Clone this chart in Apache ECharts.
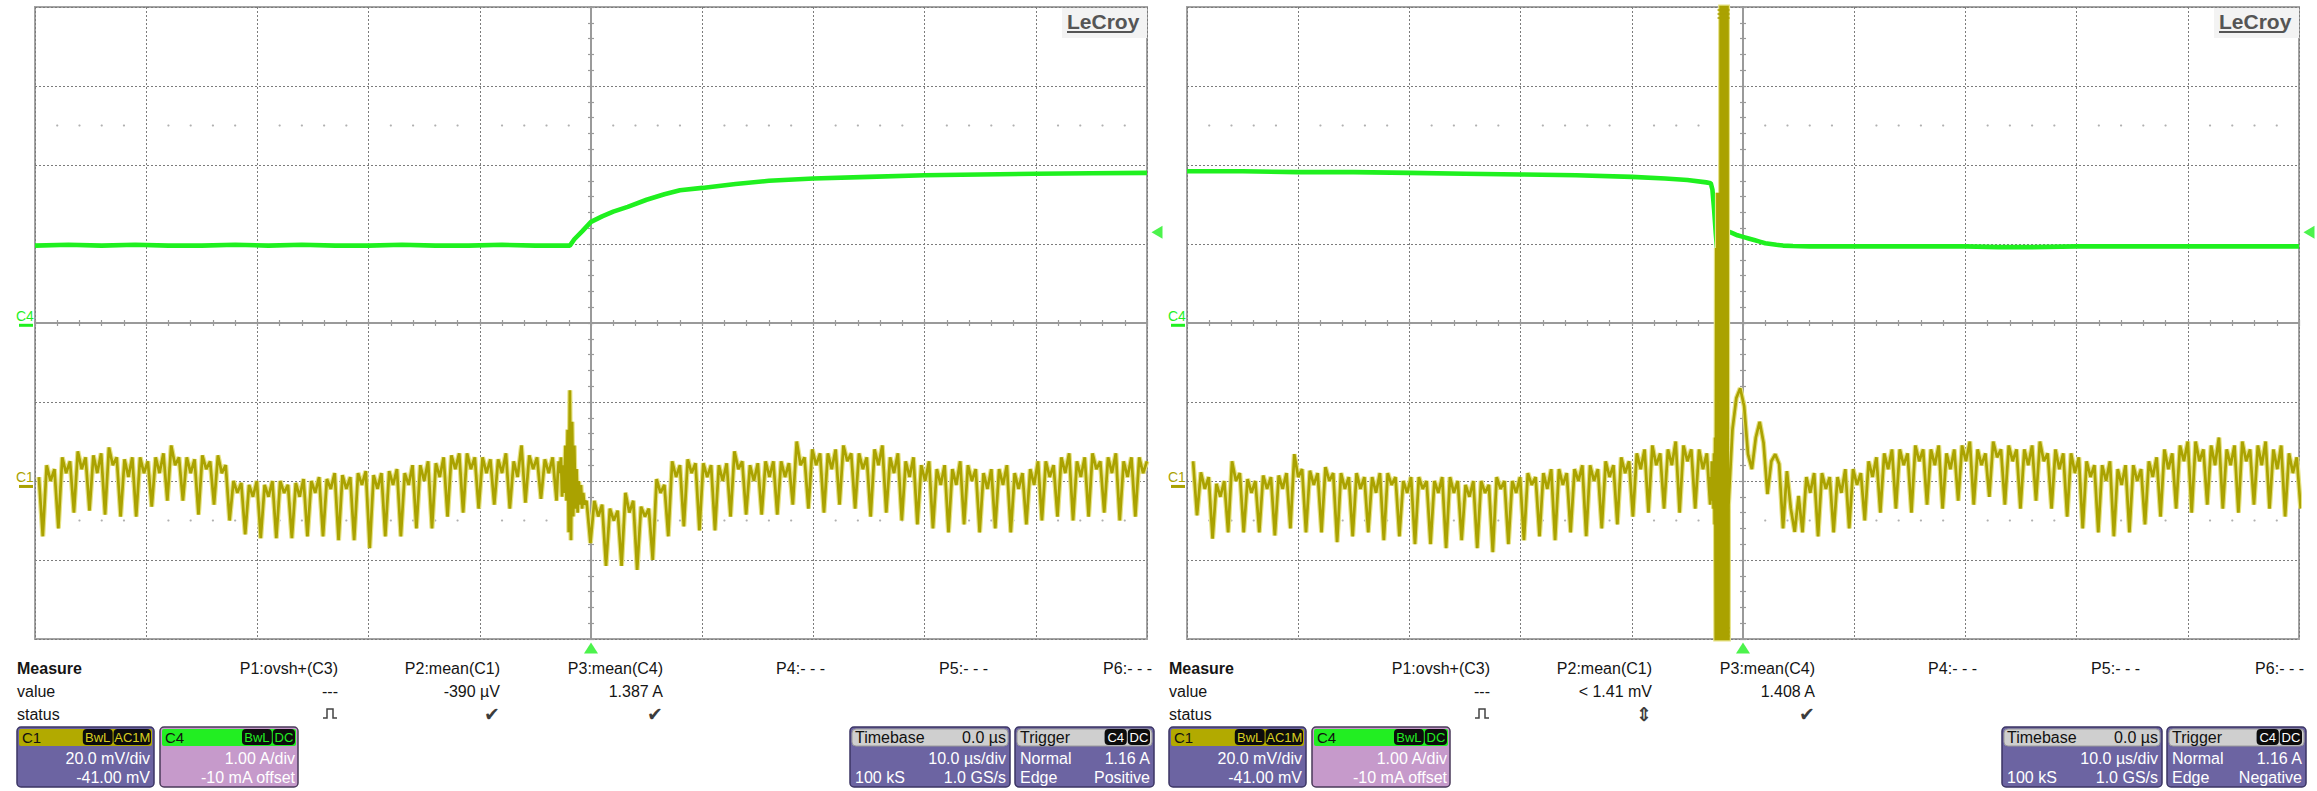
<!DOCTYPE html>
<html>
<head>
<meta charset="utf-8">
<script src="https://cdn.jsdelivr.net/npm/echarts/dist/echarts.min.js"></script>
<style>
  html, body { margin: 0; padding: 0; background: #ffffff; }
  #scope { width: 2317px; height: 791px; }
</style>
</head>
<body>
<div id="scope"></div>
<script>
// ---------------- acquisition settings ----------------
const TIME_MIN = -50, TIME_MAX = 50, TIME_DIV = 10;   // µs, 10.0 µs/div
const DIVS_V = 4;                                      // ±4 vertical divisions
const C4_SCALE = 1.0, C4_OFFSET = -0.010;              // A/div, A  (-10 mA offset)
const C1_SCALE = 20.0, C1_OFFSET = -41.0;              // mV/div, mV
const TRIG_LEVEL = 1.16;                               // A, trigger on C4
const DOT_ROW_DIV = 2.5;                               // graticule dot rows

// ---------------- C4 (current, A) ----------------
const C4_LEFT_T = [-50,-47,-44,-41,-38,-35,-32,-29,-26,-23,-20,-17,-14,-11,-8,-5,-3,-1.9,-1.5,-0.8,0,1,2,3.3,5,6.6,8,10,13,16,20,25,30,35,40,45,50];
const C4_LEFT_V = [0.99,1.00,0.99,1.00,0.99,0.99,1.00,0.99,1.00,0.99,0.99,1.00,0.99,0.99,1.00,0.99,0.99,0.99,1.07,1.17,1.29,1.36,1.42,1.48,1.57,1.64,1.69,1.72,1.77,1.81,1.84,1.86,1.88,1.89,1.90,1.905,1.91];

const C4_RIGHT_T = [-50,-45,-40,-35,-30,-25,-20,-15,-10,-7,-5,-3.3,-2.9,-2.75,-2.6,-2.45,-2.3,-1.6,-1.35,-1,-0.5,0,0.5,1,1.5,2,2.5,3,3.6,4.5,6,10,15,20,23,26,30,35,40,45,50];
const C4_RIGHT_V = [1.93,1.93,1.92,1.92,1.91,1.90,1.89,1.88,1.86,1.84,1.82,1.79,1.78,1.70,1.45,1.15,0.90,1.18,1.17,1.15,1.12,1.10,1.08,1.06,1.04,1.02,1.01,1.00,0.99,0.985,0.98,0.98,0.98,0.98,0.97,0.97,0.98,0.98,0.98,0.98,0.98];

// ---------------- C1 (voltage ripple, mV) ----------------
// Each record: start time (µs), sample step (µs), samples (mV)
const C1_LEFT_PRE_T0 = -49.65, C1_LEFT_PRE_DT = 0.35;
const C1_LEFT_PRE = [2,
  -13,5,1,4, -11,7,3,6, -7,8.5,4,7, -6.5,7.5,3,8, -7.5,9.5,5,7, -8,6.5,2,7, -8,7,3,6,
  -5.5,7,3,8, -4,10,5,7, -4,7,3,6.5, -7.5,7.5,4,6, -5,7.5,3,5, -9,1,-2,0.5, -12.5,0,-3,1,
  -13.5,0,-3,1, -13.5,1,-2,0, -13.5,0.5,-3,1.5, -13,1,-2,2, -13,1.5,-1,3, -14,2.5,-1,2, -14,3,0,3.5,
  -16,2.5,-1,3, -13,3.5,0,4, -13,3,0,5, -11,5,1,6, -11,5.5,2,7, -8,7.5,4,8, -7,8,4,7,
  -6,7,3,6.5, -5,6.5,3,8, -6,6,2,10, -4.5,7.5,4,7, -3.5,6.5,3,7];
const C1_LEFT_BURST_T0 = -3.1, C1_LEFT_BURST_DT = 0.1;
const C1_LEFT_BURST = [-4,2,6,3,7,-3,5,-2,10,-4,14,-12,24,-14,16,-8,10,-6,4,-7,1,-5,0,-6,-2,-5];
const C1_LEFT_POST_T0 = -0.4, C1_LEFT_POST_DT = 0.35;
const C1_LEFT_POST = [-4,
  -14.7,-4,-8,-5, -20.5,-6,-9,-6.5, -20.5,-2,-7,-4, -21.5,-5.5,-8,-6, -19,1.5,-2,0,
  -13,6,2,5, -10.5,6.5,3,5.5, -11.5,5.5,2,5, -11.5,5,1,5.5, -8,8.5,4,6, -7.5,5,1,5.5,
  -7.5,6,2,6, -7.5,6,2,5.5, -5,11,5,7, -6,9,5,8, -7,8,4,9, -5,10,6,8, -6,8,4,7,
  -8,9,5,10, -7,7,3,8, -9,6,2,7, -10,5,1,6, -11,4,0,5, -12,4,0,6, -10,5,1,4,
  -12,3,-1,4, -11,4,0,5, -12,3,-1,3, -10,4,0,6, -9,6,2,5, -8,7,3,8, -9,6,2,7,
  -8,8,4,6, -7,7,3,8, -9,6,2,7, -8,7,3,6];

const C1_RIGHT_PRE_T0 = -49.45, C1_RIGHT_PRE_DT = 0.35;
const C1_RIGHT_PRE = [6,
  -7.7,3.2,-1,2, -13.6,0.3,-3,1, -12,6,1,3, -12,1.5,-2,1, -12,2.4,-1,2, -12.8,2.4,-1,3,
  -11,7.8,2,4, -12,3.6,0,3, -12,4.5,1,3, -14.5,3,-1,2, -13,3,-1,2, -12,2,-2,3,
  -14,3,0,2, -13,1,-2,2, -15,2,-1,1, -15,1,-2,2, -16,2,-2,1, -14,0,-3,1, -16,1,-2,0,
  -17,2,-1,1, -15,1,-2,2, -14,3,0,2, -13,3,-1,4, -14,4,0,3, -12,4,1,5, -13,5,1,4,
  -11,6,2,5, -10,7,3,6, -8,8,4,9, -7,10,5,8, -6,9,5,11, -7,10,6,9, -6,9,4,8];
const C1_RIGHT_BURST_T0 = -2.95, C1_RIGHT_BURST_DT = 0.05;
const C1_RIGHT_BURST = [-5,2,-4,6,-3,5,-6,8,-10,12,-40,60,-150,74,-150,70,-150,74,-150,
  200,-200,200,-200,200,-200,200,-200,200,-200,200,-200,150,-150];
const C1_RIGHT_POST_T0 = -1.3, C1_RIGHT_POST_DT = 0.35;
const C1_RIGHT_POST = [-5,14,22,24.5,20,7.8,4,12,16,10.6,-2.3,6,7.8,5.3,-11,3.5,-6,-11.9,-2.8,
  -12,2,-2,3, -13,3,-1,2, -12,2,-2,4, -11,4,0,3, -9,6,2,7, -7,8,4,9, -6,9,5,8,
  -7,10,6,9, -5,9,5,10, -6,8,4,9, -4,10,6,11, -5,9,5,8, -3,11,7,9, -5,10,6,9,
  -6,9,5,10, -4,11,6,8, -6,9,4,8, -8,8,3,7, -11,6,2,5, -12,5,1,6, -13,4,0,5,
  -12,5,1,4, -10,6,2,7, -8,9,4,8, -6,10,6,11, -7,11,6,9, -5,10,5,12, -6,9,5,10,
  -7,11,6,9, -5,10,5,11, -6,9,4,10, -8,8,3,7, -6];
const C1_RIGHT_CLIP_T = -1.75;   // where the burst runs off screen

// ---------------- readouts ----------------
const MEASURE_HEADERS = ['P1:ovsh+(C3)', 'P2:mean(C1)', 'P3:mean(C4)', 'P4:- - -', 'P5:- - -', 'P6:- - -'];
const MEASURE_VALUES_LEFT = ['---', '-390 µV', '1.387 A'];
const MEASURE_VALUES_RIGHT = ['---', '< 1.41 mV', '1.408 A'];
const C1_INFO = ['20.0 mV/div', '-41.00 mV'];
const C4_INFO = ['1.00 A/div', '-10 mA offset'];
const TIMEBASE_INFO = ['0.0 µs', '10.0 µs/div', '100 kS', '1.0 GS/s'];
const TRIGGER_INFO = ['Normal', '1.16 A', 'Edge'];
const TRIGGER_SLOPE_LEFT = 'Positive', TRIGGER_SLOPE_RIGHT = 'Negative';

// ---------------- helpers ----------------
function seg(t0, dt, vals) { return vals.map((v, i) => [+(t0 + i * dt).toFixed(4), v]); }
function pairs(ts, vs) { return ts.map((t, i) => [t, vs[i]]); }

const GREEN = '#1ff01f', OLIVE = '#aaa200', OLIVE_HALO = '#e6e285';
const GRID_GREY = '#7c7c7c', BORDER_GREY = '#a3a3a3', AXIS_GREY = '#9a9a9a';
const FONT = '"Liberation Sans", Arial, sans-serif';

const grids = [], xAxes = [], yAxes = [], series = [];
const PANEL_X = [35, 1187];

function addPanel(p, c4, c1, clipT) {
  grids.push({ left: PANEL_X[p], top: 7, width: 1112, height: 632, show: true,
    borderColor: BORDER_GREY, borderWidth: 2, backgroundColor: '#ffffff', outerBoundsMode: 'none', containLabel: false });
  const g = p;
  const hidden = { axisLine: { show: false }, axisTick: { show: false }, axisLabel: { show: false } };
  const dotted = { show: true, lineStyle: { color: GRID_GREY, width: 1, type: [2, 2] } };

  const xMain = xAxes.length;
  xAxes.push(Object.assign({ gridIndex: g, type: 'value', min: TIME_MIN, max: TIME_MAX, interval: TIME_DIV, splitLine: dotted }, hidden));
  const yDiv = yAxes.length;
  yAxes.push(Object.assign({ gridIndex: g, type: 'value', min: -DIVS_V, max: DIVS_V, interval: 1, splitLine: dotted }, hidden));

  // centre cross with fine ticks on both sides
  for (const inside of [false, true]) {
    xAxes.push({ gridIndex: g, type: 'value', min: TIME_MIN, max: TIME_MAX, interval: TIME_DIV / 5,
      axisLine: { show: true, onZero: true, onZeroAxisIndex: yDiv, lineStyle: { color: AXIS_GREY, width: 2 } },
      axisTick: { show: true, inside: inside, length: 3, lineStyle: { color: AXIS_GREY, width: 1.2 } },
      axisLabel: { show: false }, splitLine: { show: false } });
    yAxes.push({ gridIndex: g, type: 'value', min: -DIVS_V, max: DIVS_V, interval: 0.2,
      axisLine: { show: true, onZero: true, onZeroAxisIndex: xMain, lineStyle: { color: AXIS_GREY, width: 2 } },
      axisTick: { show: true, inside: inside, length: 3, lineStyle: { color: AXIS_GREY, width: 1.2 } },
      axisLabel: { show: false }, splitLine: { show: false } });
  }
  const yC4 = yAxes.length;
  yAxes.push({ gridIndex: g, type: 'value', show: false,
    min: -DIVS_V * C4_SCALE - C4_OFFSET, max: DIVS_V * C4_SCALE - C4_OFFSET });
  const yC1 = yAxes.length;
  yAxes.push({ gridIndex: g, type: 'value', show: false,
    min: -DIVS_V * C1_SCALE - C1_OFFSET, max: DIVS_V * C1_SCALE - C1_OFFSET });

  // graticule dot rows
  const dots = [];
  for (let t = TIME_MIN + 2; t < TIME_MAX; t += 2) {
    if (t % TIME_DIV === 0) continue;
    dots.push([t, DOT_ROW_DIV], [t, -DOT_ROW_DIV]);
  }
  series.push({ type: 'scatter', xAxisIndex: xMain, yAxisIndex: yDiv, data: dots, symbolSize: 2.2,
    itemStyle: { color: '#9c9c9c' }, silent: true, z: 1 });

  // C4 trace
  series.push({ type: 'line', xAxisIndex: xMain, yAxisIndex: yC4, data: c4, showSymbol: false, symbol: 'none',
    lineStyle: { color: GREEN, width: 4.6 }, silent: true, z: 3 });
  // C1 trace (pale fringe under an olive core)
  series.push({ type: 'line', xAxisIndex: xMain, yAxisIndex: yC1, data: c1, showSymbol: false, symbol: 'none',
    lineStyle: { color: OLIVE_HALO, width: 5 }, silent: true, z: 4, clip: true });
  series.push({ type: 'line', xAxisIndex: xMain, yAxisIndex: yC1, data: c1, showSymbol: false, symbol: 'none',
    lineStyle: { color: OLIVE, width: 2.7 }, silent: true, z: 5, clip: true });

  // overflow marks where C1 leaves the screen
  if (clipT != null) {
    series.push({ type: 'custom', xAxisIndex: xMain, yAxisIndex: yDiv, silent: true, z: 6, clip: false,
      data: [[clipT, DIVS_V, 1], [clipT, -DIVS_V, -1]],
      renderItem: function (params, api) {
        const pt = api.coord([api.value(0), api.value(1)]);
        const dir = api.value(2);
        const kids = [];
        for (let k = 0; k < 3; k++) {
          const y = pt[1] + dir * (3 + 4 * k);
          kids.push({ type: 'line', shape: { x1: pt[0] - 6, y1: y, x2: pt[0] + 6, y2: y },
            style: { stroke: OLIVE, lineWidth: 1.6 } });
        }
        return { type: 'group', children: kids };
      } });
  }

  // trigger time marker (below graticule) and trigger level marker (right edge)
  series.push({ type: 'scatter', xAxisIndex: xMain, yAxisIndex: yDiv, data: [[0, -DIVS_V]], clip: false,
    symbol: 'triangle', symbolSize: [14, 11], symbolOffset: [0, 9], itemStyle: { color: GREEN }, silent: true, z: 6 });
  series.push({ type: 'scatter', xAxisIndex: xMain, yAxisIndex: yC4, data: [[TIME_MAX, TRIG_LEVEL]], clip: false,
    symbol: 'triangle', symbolRotate: 90, symbolSize: [13, 11], symbolOffset: [10, 0], itemStyle: { color: GREEN }, silent: true, z: 6 });

  // channel ground markers: short bar at the channel's zero level plus its name
  const gnd = (axis, name, color) => ({ type: 'custom', xAxisIndex: xMain, yAxisIndex: axis, silent: true, z: 6, clip: false,
    data: [[TIME_MIN, 0]],
    renderItem: function (params, api) {
      const pt = api.coord([api.value(0), api.value(1)]);
      return { type: 'group', children: [
        { type: 'rect', shape: { x: pt[0] - 16, y: pt[1], width: 14, height: 3 }, style: { fill: color } },
        { type: 'text', x: pt[0] - 19, y: pt[1] - 1,
          style: { text: name, fill: color, font: '14px ' + FONT, align: 'left', verticalAlign: 'bottom',
                   textAlign: 'left', textVerticalAlign: 'bottom' } }
      ] };
    } });
  series.push(gnd(yC4, 'C4', GREEN));
  series.push(gnd(yC1, 'C1', OLIVE));
}

addPanel(0, pairs(C4_LEFT_T, C4_LEFT_V),
  seg(C1_LEFT_PRE_T0, C1_LEFT_PRE_DT, C1_LEFT_PRE)
    .concat(seg(C1_LEFT_BURST_T0, C1_LEFT_BURST_DT, C1_LEFT_BURST))
    .concat(seg(C1_LEFT_POST_T0, C1_LEFT_POST_DT, C1_LEFT_POST)), null);
addPanel(1, pairs(C4_RIGHT_T, C4_RIGHT_V),
  seg(C1_RIGHT_PRE_T0, C1_RIGHT_PRE_DT, C1_RIGHT_PRE)
    .concat(seg(C1_RIGHT_BURST_T0, C1_RIGHT_BURST_DT, C1_RIGHT_BURST))
    .concat(seg(C1_RIGHT_POST_T0, C1_RIGHT_POST_DT, C1_RIGHT_POST)), C1_RIGHT_CLIP_T);

// ---------------- readout panels (graphic) ----------------
function txt(x, y, s, o) {
  o = o || {};
  const align = o.align || 'left';
  return { type: 'text', x: x, y: y, z: 60, silent: true,
    style: { text: s, fill: o.fill || '#151515', font: o.font || ('16px ' + FONT),
      align: align, textAlign: align, verticalAlign: 'middle', textVerticalAlign: 'middle' } };
}
function box(x, y, w, h, fill, o) {
  o = o || {};
  return { type: 'rect', z: o.z || 55, silent: true, shape: { x: x, y: y, width: w, height: h, r: o.r == null ? 4 : o.r },
    style: { fill: fill, stroke: o.stroke || null, lineWidth: o.lw || 1 } };
}
function tags(rightX, y, list, textColor) {
  const els = [];
  let x = rightX;
  for (let i = list.length - 1; i >= 0; i--) {
    const w = 7.6 * list[i].length + 8;
    x -= w;
    els.push(box(x, y, w - 1, 16, '#0c0c0c', { r: 4, z: 57 }));
    els.push(Object.assign(txt(x + (w - 1) / 2, y + 8.5, list[i], { align: 'center', fill: textColor, font: '13px ' + FONT }), { z: 58 }));
  }
  return els;
}

function readouts(ox, values, slope, statusMid) {
  const els = [];
  const COLS = [338, 500, 663, 825, 988, 1152];
  els.push(txt(ox + 17, 668, 'Measure', { font: 'bold 16px ' + FONT }));
  els.push(txt(ox + 17, 691, 'value'));
  els.push(txt(ox + 17, 714, 'status'));
  MEASURE_HEADERS.forEach((h, i) => els.push(txt(ox + COLS[i], 668, h, { align: 'right' })));
  values.forEach((v, i) => els.push(txt(ox + COLS[i], 691, v, { align: 'right' })));
  // status glyphs
  const px = ox + COLS[0] - 8;
  els.push({ type: 'polyline', z: 60, silent: true,
    shape: { points: [[px - 7, 718], [px - 3, 718], [px - 3, 709], [px + 3, 709], [px + 3, 718], [px + 7, 718]] },
    style: { stroke: '#444', fill: null, lineWidth: 1.5 } });
  els.push(txt(ox + COLS[1], 714, statusMid, { align: 'right', fill: '#3c3c3c', font: 'bold 19px "DejaVu Sans", sans-serif' }));
  els.push(txt(ox + COLS[2], 714, '✔', { align: 'right', fill: '#3c3c3c', font: '19px "DejaVu Sans", sans-serif' }));

  const Y = 727, H = 60, HY = 729, HH = 17, R2 = 758, R3 = 777;
  // C1 box
  els.push(box(ox + 17, Y, 137, H, '#6c64a2', { stroke: '#3b3564', lw: 1.5 }));
  els.push(box(ox + 19, HY, 133, HH, '#b2aa00', { r: 2, z: 56 }));
  els.push(Object.assign(txt(ox + 22, HY + 8.5, 'C1', { fill: '#111', font: '15px ' + FONT }), { z: 58 }));
  tags(ox + 152, HY, ['BwL', 'AC1M'], '#d8cf20').forEach(e => els.push(e));
  els.push(txt(ox + 150, R2, C1_INFO[0], { align: 'right', fill: '#ffffff' }));
  els.push(txt(ox + 150, R3, C1_INFO[1], { align: 'right', fill: '#ffffff' }));
  // C4 box
  els.push(box(ox + 160, Y, 138, H, '#c69acb', { stroke: '#4a3a5a', lw: 1.5 }));
  els.push(box(ox + 162, HY, 134, HH, '#22ee22', { r: 2, z: 56 }));
  els.push(Object.assign(txt(ox + 165, HY + 8.5, 'C4', { fill: '#111', font: '15px ' + FONT }), { z: 58 }));
  tags(ox + 296, HY, ['BwL', 'DC'], '#22ee22').forEach(e => els.push(e));
  els.push(txt(ox + 295, R2, C4_INFO[0], { align: 'right', fill: '#ffffff' }));
  els.push(txt(ox + 295, R3, C4_INFO[1], { align: 'right', fill: '#ffffff' }));
  // Timebase box
  els.push(box(ox + 850, Y, 160, H, '#6c64a2', { stroke: '#3b3564', lw: 1.5 }));
  els.push(box(ox + 852, HY, 156, HH, '#cfcfcf', { r: 4, z: 56, stroke: '#9a9a9a' }));
  els.push(Object.assign(txt(ox + 855, HY + 8.5, 'Timebase', { fill: '#111' }), { z: 58 }));
  els.push(Object.assign(txt(ox + 1006, HY + 8.5, TIMEBASE_INFO[0], { align: 'right', fill: '#111' }), { z: 58 }));
  els.push(txt(ox + 1006, R2, TIMEBASE_INFO[1], { align: 'right', fill: '#ffffff' }));
  els.push(txt(ox + 855, R3, TIMEBASE_INFO[2], { fill: '#ffffff' }));
  els.push(txt(ox + 1006, R3, TIMEBASE_INFO[3], { align: 'right', fill: '#ffffff' }));
  // Trigger box
  els.push(box(ox + 1015, Y, 139, H, '#6c64a2', { stroke: '#3b3564', lw: 1.5 }));
  els.push(box(ox + 1017, HY, 135, HH, '#cfcfcf', { r: 4, z: 56, stroke: '#9a9a9a' }));
  els.push(Object.assign(txt(ox + 1020, HY + 8.5, 'Trigger', { fill: '#111' }), { z: 58 }));
  tags(ox + 1151, HY, ['C4', 'DC'], '#ffffff').forEach(e => els.push(e));
  els.push(txt(ox + 1020, R2, TRIGGER_INFO[0], { fill: '#ffffff' }));
  els.push(txt(ox + 1150, R2, TRIGGER_INFO[1], { align: 'right', fill: '#ffffff' }));
  els.push(txt(ox + 1020, R3, TRIGGER_INFO[2], { fill: '#ffffff' }));
  els.push(txt(ox + 1150, R3, slope, { align: 'right', fill: '#ffffff' }));

  // LeCroy badge in the graticule corner
  els.push(box(ox + 1062, 8, 85, 30, '#f3f3f3', { r: 0, z: 70 }));
  els.push(Object.assign(txt(ox + 1067, 21, 'LeCroy', { fill: '#555555', font: 'bold 21px ' + FONT }), { z: 71 }));
  els.push({ type: 'line', z: 71, silent: true, shape: { x1: ox + 1067, y1: 32, x2: ox + 1130, y2: 32 },
    style: { stroke: '#555555', lineWidth: 2 } });
  return els;
}

const graphics = readouts(0, MEASURE_VALUES_LEFT, TRIGGER_SLOPE_LEFT, '✔')
  .concat(readouts(1152, MEASURE_VALUES_RIGHT, TRIGGER_SLOPE_RIGHT, '⇕'));

const chart = echarts.init(document.getElementById('scope'), null, { renderer: 'svg', width: 2317, height: 791 });
chart.setOption({
  animation: false,
  backgroundColor: '#ffffff',
  grid: grids,
  xAxis: xAxes,
  yAxis: yAxes,
  series: series,
  graphic: { elements: graphics }
});
</script>
</body>
</html>
